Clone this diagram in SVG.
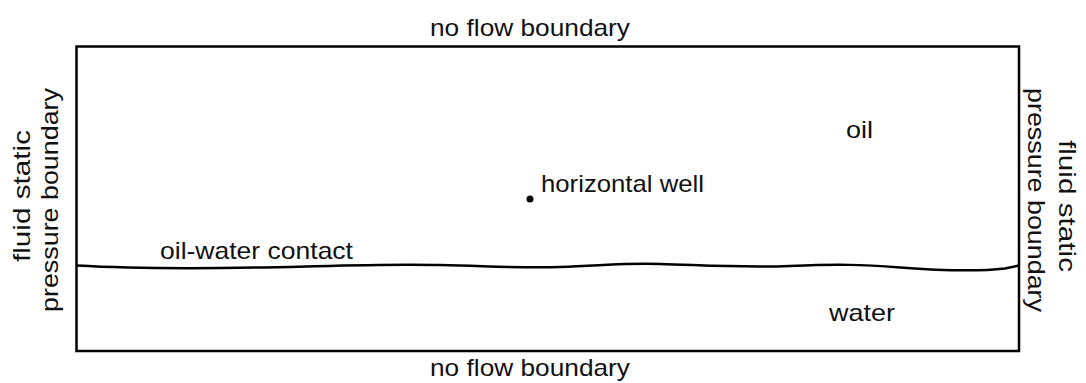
<svg xmlns="http://www.w3.org/2000/svg" width="1086" height="383" viewBox="0 0 1086 383">
  <style>
    .lbl { font-family: "Liberation Sans", Arial, sans-serif; font-size: 24px; fill: #111; }
    .edge { fill: none; stroke: #000; stroke-width: 2.5; }
  </style>
  <rect width="1086" height="383" fill="#fff"/>

  <!-- reservoir section outline -->
  <g id="reservoir">
    <rect class="edge" x="76.5" y="46.5" width="942.5" height="304.5"/>
  </g>

  <!-- fluid interface -->
  <g id="connectors">
    <path class="edge" d="M77,265.5 C120,268 200,268.5 260,267.5 S380,263.5 440,265 S520,268 560,267 S620,263 660,264 S740,268 790,266 S860,264.5 900,267.5 S975,272 1005,268.5 L1019,265.5"/>
  </g>

  <!-- boundary labels -->
  <g id="top-boundary">
    <text class="lbl" x="430" y="36" textLength="200" lengthAdjust="spacingAndGlyphs">no flow boundary</text>
  </g>
  <g id="bottom-boundary">
    <text class="lbl" x="430" y="376" textLength="200" lengthAdjust="spacingAndGlyphs">no flow boundary</text>
  </g>
  <g id="left-boundary">
    <text class="lbl" transform="translate(30,196) rotate(-90)" text-anchor="middle" textLength="132" lengthAdjust="spacingAndGlyphs">fluid static</text>
    <text class="lbl" transform="translate(58,200) rotate(-90)" text-anchor="middle" textLength="224" lengthAdjust="spacingAndGlyphs">pressure boundary</text>
  </g>
  <g id="right-boundary">
    <text class="lbl" transform="translate(1028,200) rotate(90)" text-anchor="middle" textLength="224" lengthAdjust="spacingAndGlyphs">pressure boundary</text>
    <text class="lbl" transform="translate(1059,206) rotate(90)" text-anchor="middle" textLength="132" lengthAdjust="spacingAndGlyphs">fluid static</text>
  </g>

  <!-- zones -->
  <g id="oil">
    <text class="lbl" x="846" y="138" textLength="27" lengthAdjust="spacingAndGlyphs">oil</text>
  </g>
  <g id="water">
    <text class="lbl" x="829" y="321" textLength="66" lengthAdjust="spacingAndGlyphs">water</text>
  </g>
  <g id="contact">
    <text class="lbl" x="160" y="259" textLength="193" lengthAdjust="spacingAndGlyphs">oil-water contact</text>
  </g>

  <!-- well -->
  <g id="well">
    <circle cx="530" cy="199" r="3.5" fill="#000"/>
    <text class="lbl" x="541" y="192" textLength="163" lengthAdjust="spacingAndGlyphs">horizontal well</text>
  </g>
</svg>
